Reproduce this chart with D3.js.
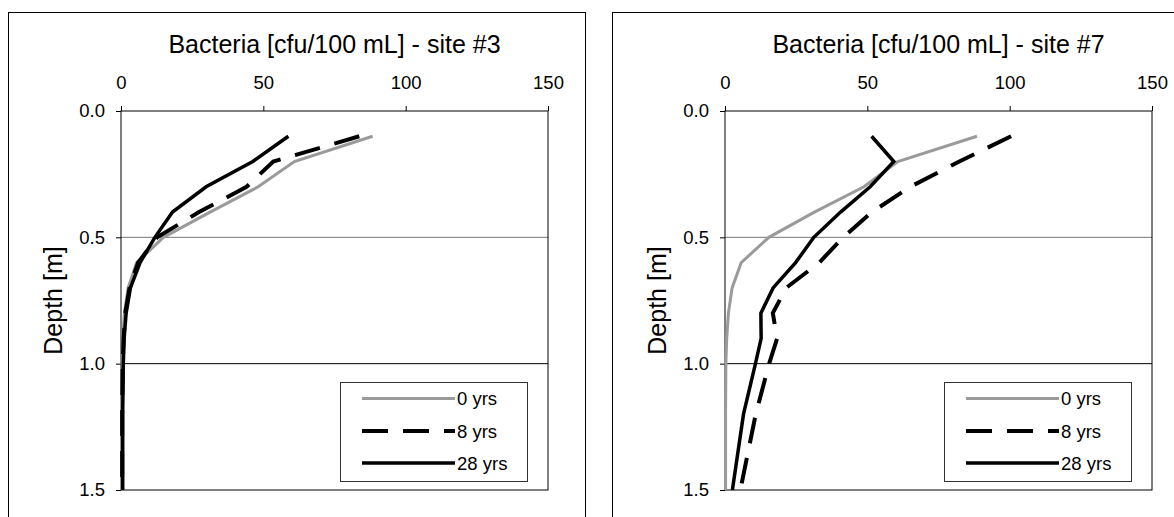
<!DOCTYPE html>
<html>
<head>
<meta charset="utf-8">
<script src="https://cdn.jsdelivr.net/npm/d3@7"></script>
<style>
  html, body { margin: 0; padding: 0; background: #fff; }
  svg { display: block; font-family: "Liberation Sans", Arial, Helvetica, sans-serif; }
</style>
</head>
<body>
<svg id="chart" width="1174" height="517"></svg>
<script>
// ---- data ----
const depths = [0.1, 0.2, 0.3, 0.4, 0.5, 0.6, 0.7, 0.8, 0.9, 1.0, 1.2, 1.5];
const seriesLabels = ["0 yrs", "8 yrs", "28 yrs"];
const site3_0yrs  = [88.4, 60.9, 48.2, 31.3, 14.9, 5.5, 2.5, 1.2, 0.6, 0.4, 0.2, 0.2];
const site3_8yrs  = [83.7, 53.5, 44.1, 27.4, 12.7, 6.0, 3.0, 1.5, 0.9, 0.6, 0.4, 0.4];
const site3_28yrs = [58.8, 46.3, 29.9, 18.1, 11.9, 6.7, 3.3, 1.8, 1.1, 0.8, 0.6, 0.6];
const site7_0yrs  = [88.5, 60.7, 48.8, 31.4, 15.4, 5.7, 2.5, 1.2, 0.6, 0.3, 0.2, 0.2];
const site7_8yrs  = [100.5, 82.3, 65.1, 51.6, 41.5, 33.1, 21.5, 16.8, 18.3, 15.5, 10.8, 5.4];
const site7_28yrs = [51.5, 59.3, 51.0, 40.6, 31.2, 24.8, 16.9, 12.6, 12.7, 10.7, 6.5, 2.6];
const xTicks = [0, 50, 100, 150];
const yTicks = [0, 0.5, 1.0, 1.5];
const titles = ["Bacteria [cfu/100 mL] - site #3", "Bacteria [cfu/100 mL] - site #7"];
const yLabel = "Depth [m]";

const panels = [
  { frameX: 8,   title: titles[0], series: [site3_0yrs, site3_8yrs, site3_28yrs] },
  { frameX: 612, title: titles[1], series: [site7_0yrs, site7_8yrs, site7_28yrs] }
];

const styles = [
  { stroke: "#9a9a9a", width: 3,   dash: null },
  { stroke: "#000",    width: 4,   dash: "26,15" },
  { stroke: "#000",    width: 3.5, dash: null }
];

const svg = d3.select("#chart");
svg.append("rect").attr("width", 1174).attr("height", 517).attr("fill", "#fff");

panels.forEach(p => {
  const g = svg.append("g");
  // outer frame
  g.append("rect")
    .attr("x", p.frameX + 0.5).attr("y", 12.5)
    .attr("width", 577).attr("height", 600)
    .attr("fill", "#fff").attr("stroke", "#000").attr("stroke-width", 1);

  const left = p.frameX + 113, right = left + 427, top = 111, bottom = 490;
  const x = d3.scaleLinear().domain([0, 150]).range([left, right]);
  const y = d3.scaleLinear().domain([0, 1.5]).range([top, bottom]);

  // gridlines
  g.selectAll(".grid").data(yTicks.filter(t => t > 0 && t < 1.5)).enter()
    .append("line")
    .attr("x1", left).attr("x2", right)
    .attr("y1", d => y(d)).attr("y2", d => y(d))
    .attr("stroke", d => d === 0.5 ? "#777" : "#000")
    .attr("stroke-width", 1);

  // plot border
  g.append("rect")
    .attr("x", left).attr("y", top)
    .attr("width", right - left).attr("height", bottom - top)
    .attr("fill", "none").attr("stroke", "#000").attr("stroke-width", 1);

  // axes
  const xAxis = d3.axisTop(x).tickValues(xTicks).tickFormat(d3.format("d"))
    .tickSize(5).tickSizeOuter(0).tickPadding(17);
  const gx = g.append("g").attr("transform", `translate(0,${top})`).call(xAxis);
  gx.select(".domain").remove();
  gx.selectAll("text").attr("font-size", 18.5).attr("fill", "#000")
    .attr("font-family", "Liberation Sans, Arial, sans-serif");
  gx.selectAll("line").attr("stroke", "#000");

  const yAxis = d3.axisLeft(y).tickValues(yTicks).tickFormat(d3.format(".1f"))
    .tickSize(5).tickSizeOuter(0).tickPadding(11);
  const gy = g.append("g").attr("transform", `translate(${left},0)`).call(yAxis);
  gy.select(".domain").remove();
  gy.selectAll("text").attr("font-size", 18.5).attr("fill", "#000")
    .attr("font-family", "Liberation Sans, Arial, sans-serif");
  gy.selectAll("line").attr("stroke", "#000");

  // title
  g.append("text")
    .attr("x", (left + right) / 2).attr("y", 53)
    .attr("text-anchor", "middle").attr("font-size", 25).attr("fill", "#000")
    .text(p.title);

  // y label
  g.append("text")
    .attr("transform", `translate(${left - 68},${(top + bottom) / 2}) rotate(-90)`)
    .attr("text-anchor", "middle").attr("dominant-baseline", "central")
    .attr("font-size", 25).attr("fill", "#000")
    .text(yLabel);

  // lines
  const line = d3.line().x(d => x(d[0])).y(d => y(d[1]));
  p.series.forEach((vals, i) => {
    const pts = vals.map((v, k) => [v, depths[k]]);
    g.append("path").datum(pts)
      .attr("d", line)
      .attr("fill", "none")
      .attr("stroke", styles[i].stroke)
      .attr("stroke-width", styles[i].width)
      .attr("stroke-dasharray", styles[i].dash)
      .attr("stroke-linejoin", "miter");
  });

  // legend
  const lx = left + 219, ly = top + 271;
  const lg = g.append("g");
  lg.append("rect").attr("x", lx + 0.5).attr("y", ly + 0.5)
    .attr("width", 187).attr("height", 99)
    .attr("fill", "#fff").attr("stroke", "#333").attr("stroke-width", 1);
  const rowY = [16.5, 49, 81];
  seriesLabels.forEach((lab, i) => {
    lg.append("line")
      .attr("x1", lx + 22).attr("x2", lx + 115)
      .attr("y1", ly + rowY[i]).attr("y2", ly + rowY[i])
      .attr("stroke", styles[i].stroke)
      .attr("stroke-width", styles[i].width)
      .attr("stroke-dasharray", styles[i].dash);
    lg.append("text")
      .attr("x", lx + 117).attr("y", ly + rowY[i])
      .attr("dominant-baseline", "central")
      .attr("font-size", 18.5).attr("fill", "#000")
      .text(lab);
  });
});
</script>
</body>
</html>
